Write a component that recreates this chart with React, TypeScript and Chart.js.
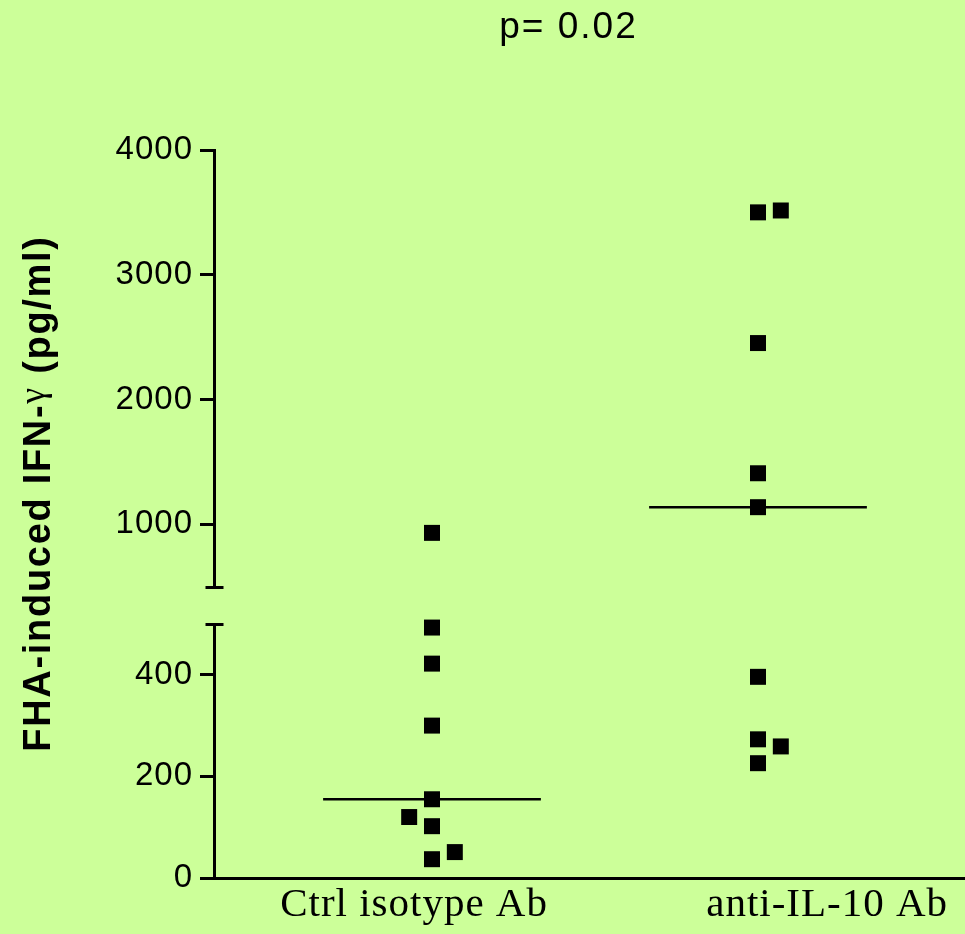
import React, { useEffect, useRef } from 'react';
import { Chart, registerables } from 'chart.js';

Chart.register(...registerables);

// ---------------- data ----------------
const categories = ['Ctrl isotype Ab', 'anti-IL-10 Ab'];
const ctrlValues = [930, 493, 422, 300, 155, 120, 102, 37, 51];
const ctrlColumns = [0, 0, 0, 0, 0, -1, 0, 0, 1];
const antiValues = [3500, 3515, 2452, 1408, 1136, 396, 273, 259, 226];
const antiColumns = [0, 1, 0, 0, 0, 0, 0, 1, 0];
const medians = [155, 1136];
const lowerTicks = [0, 200, 400];
const upperTicks = [1000, 2000, 3000, 4000];
const axisBreak = 500;
const axisMax = 4000;
const titleText = 'p= 0.02';
const yTitleParts = ['FHA-induced IFN-', 'γ', ' (pg/ml)'];

// ---------------- layout / style constants ----------------
const BG = '#CCFF99';
const W = 965;
const H = 934;
const SQUARE_R = 11.3;
const JITTER = 0.07;
const HALF_MEDIAN = 0.334;
const X_MIN = 0.3313;
const X_MAX = 2.635;
const X_LABEL_AT = [0.945, 2.212];
const SANS = '"Liberation Sans", Arial, sans-serif';
const SERIF = '"Liberation Serif", "Times New Roman", serif';

function points(values: number[], columns: number[], cat: number, lower: boolean) {
  return values
    .map((v, i) => ({ x: cat + 1 + columns[i] * JITTER, y: v }))
    .filter((p) => (lower ? p.y <= axisBreak : p.y > axisBreak));
}

function pointDataset(data: any[], axis: string) {
  return {
    data,
    yAxisID: axis,
    xAxisID: 'x',
    pointStyle: 'rect',
    pointRadius: SQUARE_R,
    pointHoverRadius: SQUARE_R,
    pointBackgroundColor: '#000',
    pointBorderColor: '#000',
    pointBorderWidth: 0,
    showLine: false,
    clip: false as any,
  };
}

function medianDataset(i: number) {
  return {
    data: [
      { x: i + 1 - HALF_MEDIAN, y: medians[i] },
      { x: i + 1 + HALF_MEDIAN, y: medians[i] },
    ],
    yAxisID: medians[i] <= axisBreak ? 'yLower' : 'yUpper',
    xAxisID: 'x',
    showLine: true,
    borderColor: '#000',
    borderWidth: 2.5,
    pointRadius: 0,
    pointHoverRadius: 0,
    fill: false,
    clip: false as any,
  };
}

const spacingPlugin = {
  id: 'spacing',
  beforeLayout(chart: any) {
    chart.ctx.letterSpacing = '1px';
  },
  beforeDraw(chart: any) {
    chart.ctx.letterSpacing = '1px';
  },
};

const textPlugin = {
  id: 'texts',
  afterDraw(chart: any) {
    const ctx = chart.ctx as CanvasRenderingContext2D;
    ctx.save();
    ctx.fillStyle = '#000';
    ctx.strokeStyle = '#000';

    // title
    ctx.font = `37px ${SANS}`;
    (ctx as any).letterSpacing = '2px';
    ctx.textAlign = 'left';
    ctx.textBaseline = 'alphabetic';
    const tw = ctx.measureText(titleText).width;
    ctx.fillText(titleText, 567.5 - tw / 2 + 1, 37.7);

    // y axis title (rotated)
    const fonts = [`bold 38px ${SANS}`, `36px ${SERIF}`, `bold 38px ${SANS}`];
    const dys = [0, -6, 0];
    (ctx as any).letterSpacing = '1.7px';
    let total = 0;
    const widths = yTitleParts.map((t, i) => {
      ctx.font = fonts[i];
      const w = ctx.measureText(t).width;
      total += w;
      return w;
    });
    ctx.translate(50, 493.5);
    ctx.rotate(-Math.PI / 2);
    let x = -total / 2;
    yTitleParts.forEach((t, i) => {
      ctx.font = fonts[i];
      ctx.fillText(t, x, dys[i]);
      x += widths[i];
    });
    ctx.setTransform(1, 0, 0, 1, 0, 0);

    // axis break caps
    const up = chart.scales.yUpper;
    const lo = chart.scales.yLower;
    const ax = lo.right + 0.5;
    ctx.lineWidth = 3;
    ctx.beginPath();
    const yu = Math.round(up.getPixelForValue(axisBreak)) + 0.5;
    const yl = Math.round(lo.getPixelForValue(axisBreak)) + 0.5;
    ctx.moveTo(ax - 9, yu);
    ctx.lineTo(ax + 9, yu);
    ctx.moveTo(ax - 9, yl);
    ctx.lineTo(ax + 9, yl);
    ctx.stroke();
    ctx.restore();
  },
};

const yCommon = {
  type: 'linear',
  position: 'left',
  stack: 'y',
  grid: {
    display: true,
    drawOnChartArea: false,
    drawTicks: true,
    tickLength: 14,
    tickWidth: 3,
    tickColor: '#000',
    lineWidth: 3,
    color: '#000',
  },
  border: { display: true, color: '#000', width: 3 },
  ticks: {
    font: { family: SANS, size: 33 },
    color: '#000',
    padding: 7,
    autoSkip: false,
    callback: (v: any) => String(v),
  },
  afterFit: (s: any) => {
    s.width = 120;
  },
};

export default function App() {
  const ref = useRef<HTMLCanvasElement | null>(null);

  useEffect(() => {
    if (!ref.current) return;
    const chart = new Chart(ref.current, {
      type: 'scatter',
      data: {
        datasets: [
          pointDataset(points(ctrlValues, ctrlColumns, 0, true), 'yLower'),
          pointDataset(points(ctrlValues, ctrlColumns, 0, false), 'yUpper'),
          pointDataset(points(antiValues, antiColumns, 1, true), 'yLower'),
          pointDataset(points(antiValues, antiColumns, 1, false), 'yUpper'),
          medianDataset(0),
          medianDataset(1),
        ] as any,
      },
      options: {
        responsive: false,
        maintainAspectRatio: false,
        animation: false,
        devicePixelRatio: 1,
        events: [],
        layout: { autoPadding: false, padding: { left: 94, top: 150, right: 0, bottom: 0 } },
        plugins: {
          legend: { display: false },
          tooltip: { enabled: false },
          title: { display: false },
        },
        scales: {
          x: {
            type: 'linear',
            position: 'bottom',
            min: X_MIN,
            max: X_MAX,
            grid: { display: false, drawTicks: false },
            border: { display: true, color: '#000', width: 3 },
            ticks: {
              font: { family: SERIF, size: 41 },
              color: '#000',
              padding: 3,
              maxRotation: 0,
              autoSkip: false,
              callback: (_v: any, i: number) => categories[i],
            },
            afterBuildTicks: (s: any) => {
              s.ticks = X_LABEL_AT.map((value) => ({ value }));
            },
            afterFit: (s: any) => {
              s.height = 56;
              s.paddingLeft = 0;
              s.paddingRight = 0;
            },
          },
          yLower: {
            ...yCommon,
            min: 0,
            max: axisBreak,
            stackWeight: 254,
            afterBuildTicks: (s: any) => {
              s.ticks = lowerTicks.map((value) => ({ value }));
            },
          },
          yGap: {
            ...yCommon,
            display: false,
            min: 0,
            max: 1,
            stackWeight: 37.5,
          },
          yUpper: {
            ...yCommon,
            min: axisBreak,
            max: axisMax,
            stackWeight: 436.5,
            afterBuildTicks: (s: any) => {
              s.ticks = upperTicks.map((value) => ({ value }));
            },
          },
        } as any,
      },
      plugins: [spacingPlugin, textPlugin],
    });
    return () => chart.destroy();
  }, []);

  return (
    <div
      style={{
        position: 'absolute',
        left: 0,
        top: 0,
        width: W,
        height: H,
        background: BG,
        overflow: 'hidden',
      }}
    >
      <canvas ref={ref} width={W} height={H} style={{ display: 'block', width: W, height: H }} />
    </div>
  );
}
